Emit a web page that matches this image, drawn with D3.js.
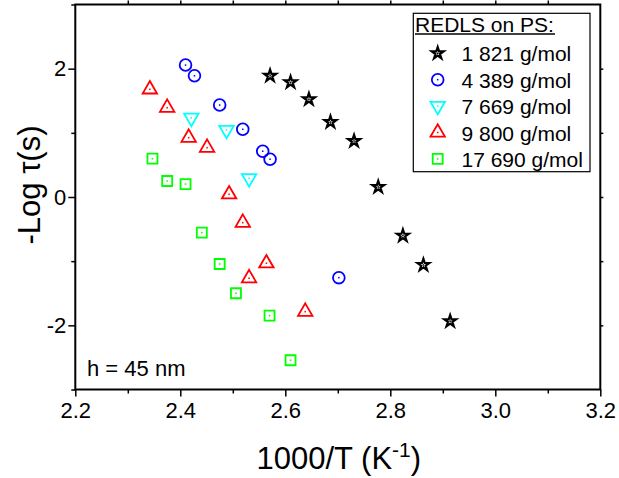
<!DOCTYPE html>
<html>
<head>
<meta charset="utf-8">
<script src="https://cdn.jsdelivr.net/npm/d3@7"></script>
<style>
  html, body { margin: 0; padding: 0; background: #fff; }
  svg { display: block; font-family: "Liberation Sans", Arial, sans-serif; }
</style>
</head>
<body>
<svg id="chart" width="619" height="478"></svg>
<script>
// Relaxation time vs inverse temperature, REDLS on PS, h = 45 nm
const seriesNames = ["1 821 g/mol", "4 389 g/mol", "7 669 g/mol", "9 800 g/mol", "17 690 g/mol"];

const x1821 = [2.571, 2.610, 2.645, 2.686, 2.731, 2.777, 2.824, 2.863, 2.914];
const y1821 = [1.889, 1.787, 1.522, 1.168, 0.872, 0.156, -0.603, -1.059, -1.936];

const x4389 = [2.410, 2.427, 2.475, 2.519, 2.557, 2.571, 2.702];
const y4389 = [2.056, 1.889, 1.433, 1.055, 0.713, 0.589, -1.257];

const x7669 = [2.421, 2.488, 2.531];
const y7669 = [1.235, 1.044, 0.291];

const x9800 = [2.342, 2.375, 2.416, 2.451, 2.493, 2.519, 2.531, 2.564, 2.638];
const y9800 = [1.678, 1.391, 0.924, 0.768, 0.042, -0.400, -1.266, -1.033, -1.787];

const x17690 = [2.347, 2.375, 2.410, 2.441, 2.475, 2.506, 2.570, 2.610];
const y17690 = [0.597, 0.249, 0.202, -0.556, -1.044, -1.500, -1.849, -2.544];

const xTickLabels = ["2.2", "2.4", "2.6", "2.8", "3.0", "3.2"];
const yTickLabels = ["-2", "0", "2"];

const seriesX = [x1821, x4389, x7669, x9800, x17690];
const seriesY = [y1821, y4389, y7669, y9800, y17690];
const colors = ["#000000", "#0000ff", "#00ffff", "#ff0000", "#00ff00"];
const shapes = ["star", "circle", "triangleDown", "triangleUp", "square"];

const svg = d3.select("#chart");
const padL = 75.3, padR = 600.3, padT = 4.5, padB = 389.5;

const x = d3.scaleLinear().domain([2.2, 3.2]).range([padL, padR]);
const y = d3.scaleLinear().domain([-3, 3]).range([padB, padT]);

const font = '"Liberation Sans", Arial, sans-serif';

// frame
svg.append("rect")
  .attr("x", padL).attr("y", padT)
  .attr("width", padR - padL).attr("height", padB - padT)
  .attr("fill", "none").attr("stroke", "#000").attr("stroke-width", 2);

// bottom axis
const xMajor = xTickLabels.map(Number);
const xMinor = d3.range(2.3, 3.2, 0.2);
const gx = svg.append("g").attr("transform", `translate(0,${padB})`);
gx.call(d3.axisBottom(x).tickValues(xMajor).tickFormat((d, i) => xTickLabels[i]).tickSizeInner(7).tickSizeOuter(0).tickPadding(6));
gx.append("g").call(d3.axisBottom(x).tickValues(xMinor).tickFormat("").tickSizeInner(4).tickSizeOuter(0));
gx.selectAll(".domain").remove();
gx.selectAll("line").attr("stroke", "#000").attr("stroke-width", 1.5);
gx.selectAll("text").attr("font-size", 22).attr("font-family", font).attr("fill", "#000");

// top axis (mirror ticks, unlabeled)
const gt = svg.append("g").attr("transform", `translate(0,${padT})`);
gt.call(d3.axisTop(x).tickValues(d3.range(2.3, 3.15, 0.1)).tickFormat("").tickSizeInner(4).tickSizeOuter(0));
gt.selectAll(".domain").remove();
gt.selectAll("line").attr("stroke", "#000").attr("stroke-width", 1.5);

// left axis
const yMajor = yTickLabels.map(Number);
const gy = svg.append("g").attr("transform", `translate(${padL},0)`);
gy.call(d3.axisLeft(y).tickValues(yMajor).tickFormat((d, i) => yTickLabels[i]).tickSizeInner(7).tickSizeOuter(0).tickPadding(2));
gy.append("g").call(d3.axisLeft(y).tickValues([-3, -1, 1, 3]).tickFormat("").tickSizeInner(4).tickSizeOuter(0));
gy.selectAll(".domain").remove();
gy.selectAll("line").attr("stroke", "#000").attr("stroke-width", 1.5);
gy.selectAll("text").attr("font-size", 22).attr("font-family", font).attr("fill", "#000");

// right axis (mirror ticks)
const gr = svg.append("g").attr("transform", `translate(${padR},0)`);
gr.call(d3.axisRight(y).tickValues([-2, -1, 0, 1, 2]).tickFormat("").tickSizeInner(3).tickSizeOuter(0));
gr.selectAll(".domain").remove();
gr.selectAll("line").attr("stroke", "#000").attr("stroke-width", 1.5);

// axis titles
const xt = svg.append("text")
  .attr("x", (padL + padR) / 2 + 1).attr("y", 469)
  .attr("text-anchor", "middle").attr("font-size", 31).attr("font-family", font);
xt.append("tspan").text("1000/T (K");
xt.append("tspan").text("-1").attr("font-size", 21).attr("dy", -12);
xt.append("tspan").text(")").attr("dy", 12);

svg.append("text")
  .attr("transform", `translate(40,185) rotate(-90)`)
  .attr("text-anchor", "middle").attr("font-size", 31).attr("font-family", font)
  .text("-Log \u03c4(s)");

// annotation
svg.append("text").attr("x", 87).attr("y", 376)
  .attr("font-size", 22).attr("font-family", font).text("h = 45 nm");

// marker drawing
function marker(g, shape, color) {
  let sym;
  if (shape === "star") sym = d3.symbol(d3.symbolStar, 44);
  else if (shape === "circle") sym = d3.symbol(d3.symbolCircle, 108);
  else if (shape === "square") sym = d3.symbol(d3.symbolSquare, 100);
  else sym = d3.symbol(d3.symbolTriangle, 90);
  const p = g.append("path").attr("d", sym())
    .attr("fill", shape === "star" ? "#fff" : "none")
    .attr("stroke", color).attr("stroke-width", shape === "star" ? 2.2 : 1.8)
    .attr("stroke-linejoin", "miter");
  if (shape === "triangleDown") p.attr("transform", "rotate(180)");
  g.append("rect").attr("x", -0.75).attr("y", -0.75).attr("width", 1.5).attr("height", 1.5)
    .attr("fill", color);
}

const plot = svg.append("g");
seriesX.forEach((xs, si) => {
  xs.forEach((xv, i) => {
    const g = plot.append("g").attr("transform", `translate(${x(xv)},${y(seriesY[si][i])})`);
    marker(g, shapes[si], colors[si]);
  });
});

// legend
const lg = svg.append("g");
lg.append("rect").attr("x", 413.3).attr("y", 13.3).attr("width", 176.7).attr("height", 158.4)
  .attr("fill", "#fff").attr("stroke", "#000").attr("stroke-width", 1.2);
lg.append("text").attr("x", 415).attr("y", 31.5).attr("font-size", 21).attr("font-family", font)
  .text("REDLS on PS:");
lg.append("line").attr("x1", 415).attr("x2", 555).attr("y1", 34).attr("y2", 34)
  .attr("stroke", "#000").attr("stroke-width", 1.5);
seriesNames.forEach((name, i) => {
  const cy = 53.3 + i * 26.4;
  const g = lg.append("g").attr("transform", `translate(437.7,${cy})`);
  marker(g, shapes[i], colors[i]);
  lg.append("text").attr("x", 461.5).attr("y", cy + 8).attr("font-size", 21).attr("font-family", font)
    .text(name);
});
</script>
</body>
</html>
